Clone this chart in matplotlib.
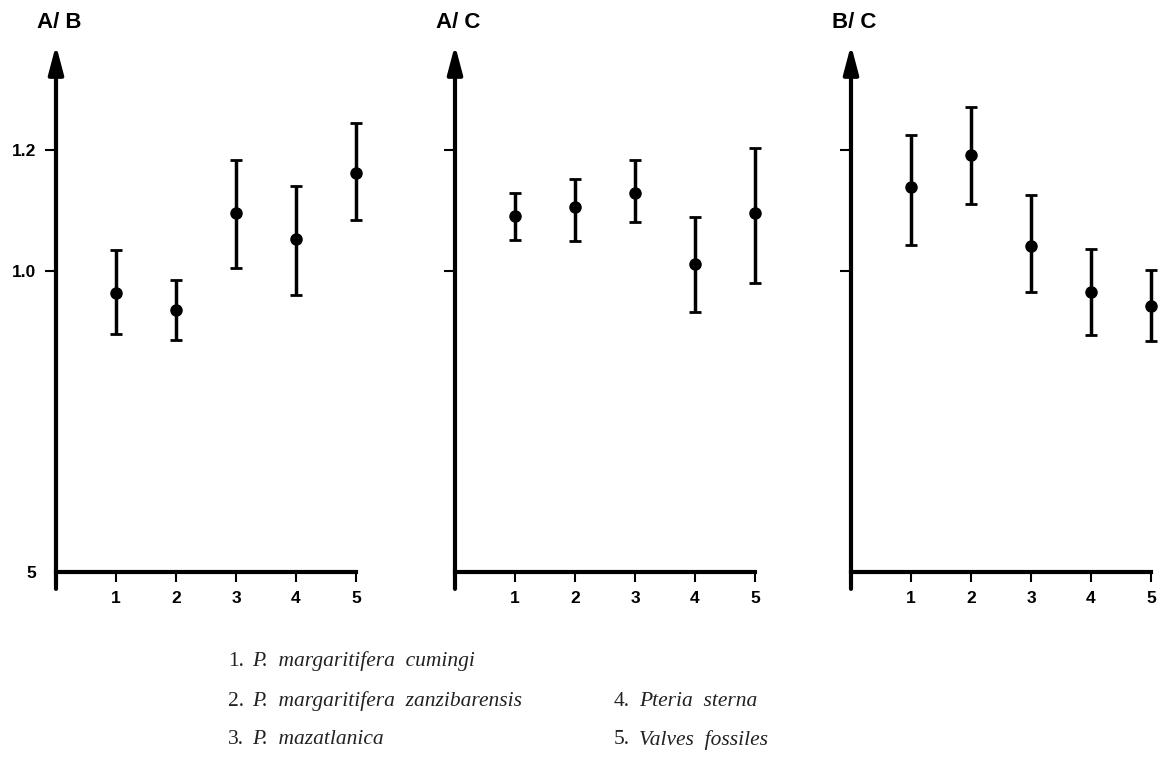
import numpy as np
import matplotlib
matplotlib.use('Agg')
import matplotlib.pyplot as plt

# groups on the x axis
groups = [1, 2, 3, 4, 5]

# A / B ratio: mean and extent of the bars
ab_mean = [0.963, 0.934, 1.096, 1.052, 1.162]
ab_low = [0.895, 0.884, 1.005, 0.959, 1.084]
ab_high = [1.034, 0.984, 1.184, 1.140, 1.245]

# A / C ratio
ac_mean = [1.091, 1.106, 1.128, 1.011, 1.095]
ac_low = [1.050, 1.049, 1.080, 0.932, 0.980]
ac_high = [1.128, 1.152, 1.184, 1.089, 1.203]

# B / C ratio
bc_mean = [1.139, 1.192, 1.041, 0.965, 0.941]
bc_low = [1.043, 1.111, 0.965, 0.893, 0.883]
bc_high = [1.225, 1.272, 1.126, 1.036, 1.001]

titles = ['A/ B', 'A/ C', 'B/ C']
ytick_vals = [0.5, 1.0, 1.2]
ytick_text = ['5', '1.0', '1.2']

legend_nums = ['1.', '2.', '3.', '4.', '5.']
legend_names = ['P.  margaritifera  cumingi',
                'P.  margaritifera  zanzibarensis',
                'P.  mazatlanica',
                'Pteria  sterna',
                'Valves  fossiles']

panels = [(ab_mean, ab_low, ab_high),
          (ac_mean, ac_low, ac_high),
          (bc_mean, bc_low, bc_high)]

W, H = 1166, 762
fig = plt.figure(figsize=(W / 100, H / 100), dpi=100)

sans = 'Liberation Sans'
serif = 'Liberation Serif'
left_px = [56, 455, 851]

for i, (mean, low, high) in enumerate(panels):
    ax = fig.add_axes([left_px[i] / W, 0.1702, 312 / W, 0.7913])
    ax.set_xlim(0, 5.2)
    ax.set_ylim(0.40, 1.40)

    mean = np.array(mean)
    yerr = [mean - np.array(low), np.array(high) - mean]
    ax.errorbar(groups, mean, yerr=yerr, fmt='o', color='black', ms=8,
                elinewidth=2.5, capsize=4.5, capthick=2)

    for s in ['top', 'right', 'left']:
        ax.spines[s].set_visible(False)
    ax.spines['bottom'].set_position(('data', 0.5))
    ax.spines['bottom'].set_bounds(0, 5)
    ax.spines['bottom'].set_linewidth(3)

    # vertical axis with arrow head
    ax.annotate('', xy=(0, 1.374), xytext=(0, 0.472),
                arrowprops=dict(arrowstyle='-|>,head_length=1.7,head_width=0.45',
                                lw=3, color='black', shrinkA=0, shrinkB=0,
                                mutation_scale=10),
                annotation_clip=False)

    ax.set_xticks(groups)
    ax.set_xticklabels([str(g) for g in groups], fontsize=12.5,
                       fontweight='bold', family=sans)
    ax.tick_params(axis='x', direction='out', length=7, width=1.5, pad=7)

    if i == 0:
        ax.set_yticks(ytick_vals)
        ax.set_yticklabels(ytick_text, fontsize=12.5, fontweight='bold', family=sans)
        ax.yaxis.get_major_ticks()[0].tick1line.set_visible(False)
    else:
        ax.set_yticks(ytick_vals[1:])
        ax.set_yticklabels([])
    ax.tick_params(axis='y', direction='out', length=8, width=1.5, pad=6)

    ax.text(0.05, 1.412, titles[i], ha='center', va='center', fontsize=16,
            fontweight='bold', family=sans, clip_on=False)

# species key below the panels
rows_y = [1 - 661 / H, 1 - 701 / H, 1 - 740 / H]
num_x = [228 / W, 614 / W]
name_x = [252 / W, 639 / W]
for k in range(5):
    col = 0 if k < 3 else 1
    row = k if k < 3 else k - 2
    fig.text(num_x[col], rows_y[row], legend_nums[k], family=serif,
             fontsize=15.5, color='#222222', va='center')
    fig.text(name_x[col], rows_y[row], legend_names[k], family=serif,
             style='italic', fontsize=15.5, color='#222222', va='center')

fig.savefig('out.png', dpi=100)
